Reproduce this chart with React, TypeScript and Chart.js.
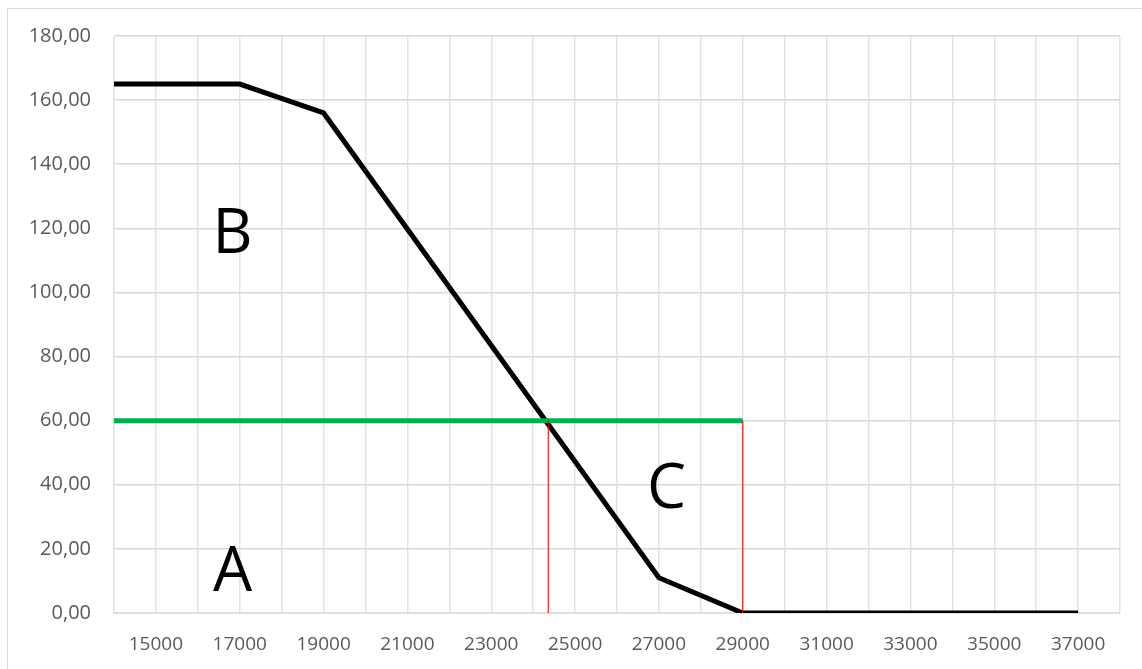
import React, { useEffect, useRef } from "react";
import { Chart, registerables } from "chart.js";

Chart.register(...registerables);

// Black curve
const blackX = [14000, 17000, 19000, 27000, 29000, 37000];
const blackY = [165, 165, 156, 11, 0, 0];
// Green horizontal line
const greenX = [14000, 29000];
const greenY = [60, 60];
// Red vertical lines
const red1X = [24360, 24360];
const red1Y = [0, 60];
const red2X = [29000, 29000];
const red2Y = [0, 60];
// Region labels
const labelTexts = ["A", "B", "C"];
const labelX = [16830, 16830, 27180];
const labelY = [13.6, 119.3, 39.6];

const toPts = (xs: number[], ys: number[]) => xs.map((x, i) => ({ x, y: ys[i] }));

const labelsPlugin = {
  id: "regionLabels",
  afterDatasetsDraw(chart: any) {
    const { ctx, scales } = chart;
    ctx.save();
    ctx.fillStyle = "#000000";
    ctx.font = '62px "Open Sans"';
    ctx.textAlign = "center";
    ctx.textBaseline = "alphabetic";
    labelTexts.forEach((t, i) => {
      const px = scales.x.getPixelForValue(labelX[i]);
      const py = scales.y.getPixelForValue(labelY[i]);
      ctx.fillText(t, px, py + 22);
    });
    ctx.restore();
  },
};

export default function App() {
  const ref = useRef<HTMLCanvasElement | null>(null);
  useEffect(() => {
    if (!ref.current) return;
    const chart = new Chart(ref.current, {
      type: "line",
      data: {
        datasets: [
          {
            data: toPts(red1X, red1Y),
            borderColor: "rgba(255,0,0,0.9)",
            borderWidth: 1.2,
            pointRadius: 0,
          },
          {
            data: toPts(red2X, red2Y),
            borderColor: "rgba(255,0,0,0.9)",
            borderWidth: 1.2,
            pointRadius: 0,
          },
          {
            data: toPts(greenX, greenY),
            borderColor: "#00b050",
            borderWidth: 5,
            pointRadius: 0,
          },
          {
            data: toPts(blackX, blackY),
            borderColor: "#000000",
            borderWidth: 5,
            pointRadius: 0,
            borderJoinStyle: "miter",
          },
        ],
      },
      options: {
        animation: false,
        responsive: true,
        maintainAspectRatio: false,
        layout: { padding: { top: 27, right: 14, left: 0, bottom: 0 } },
        plugins: { legend: { display: false }, tooltip: { enabled: false } },
        scales: {
          x: {
            type: "linear",
            min: 14000,
            max: 38000,
            afterFit: (s: any) => {
              s.height = 54;
              s.paddingLeft = 0;
              s.paddingRight = 0;
            },
            grid: { color: "#e3e3e3", lineWidth: 1.5, drawTicks: false },
            border: { color: "#d9d9d9", width: 1.5 },
            ticks: {
              stepSize: 1000,
              autoSkip: false,
              maxRotation: 0,
              padding: 20,
              color: "#595959",
              font: { family: "Open Sans", size: 19 },
              callback: (v: any) => ((v / 1000) % 2 === 1 ? String(v) : ""),
            },
          },
          y: {
            min: 0,
            max: 180,
            afterFit: (s: any) => {
              s.width = 106;
              s.paddingTop = 0;
              s.paddingBottom = 0;
            },
            grid: { color: "#d9d9d9", lineWidth: 1.5, drawTicks: false },
            border: { display: false },
            ticks: {
              stepSize: 20,
              padding: 23,
              color: "#595959",
              font: { family: "Open Sans", size: 20 },
              callback: (v: any) => Number(v).toFixed(2).replace(".", ","),
            },
          },
        },
      },
      plugins: [labelsPlugin],
    });
    return () => chart.destroy();
  }, []);

  return (
    <div>
      <div
        style={{
          position: "absolute",
          left: 7,
          top: 8,
          width: 1300,
          height: 800,
          border: "1.5px solid #d9d9d9",
          boxSizing: "border-box",
        }}
      />
      <div style={{ position: "absolute", left: 8, top: 9, width: 1126, height: 658 }}>
        <canvas ref={ref} />
      </div>
    </div>
  );
}
